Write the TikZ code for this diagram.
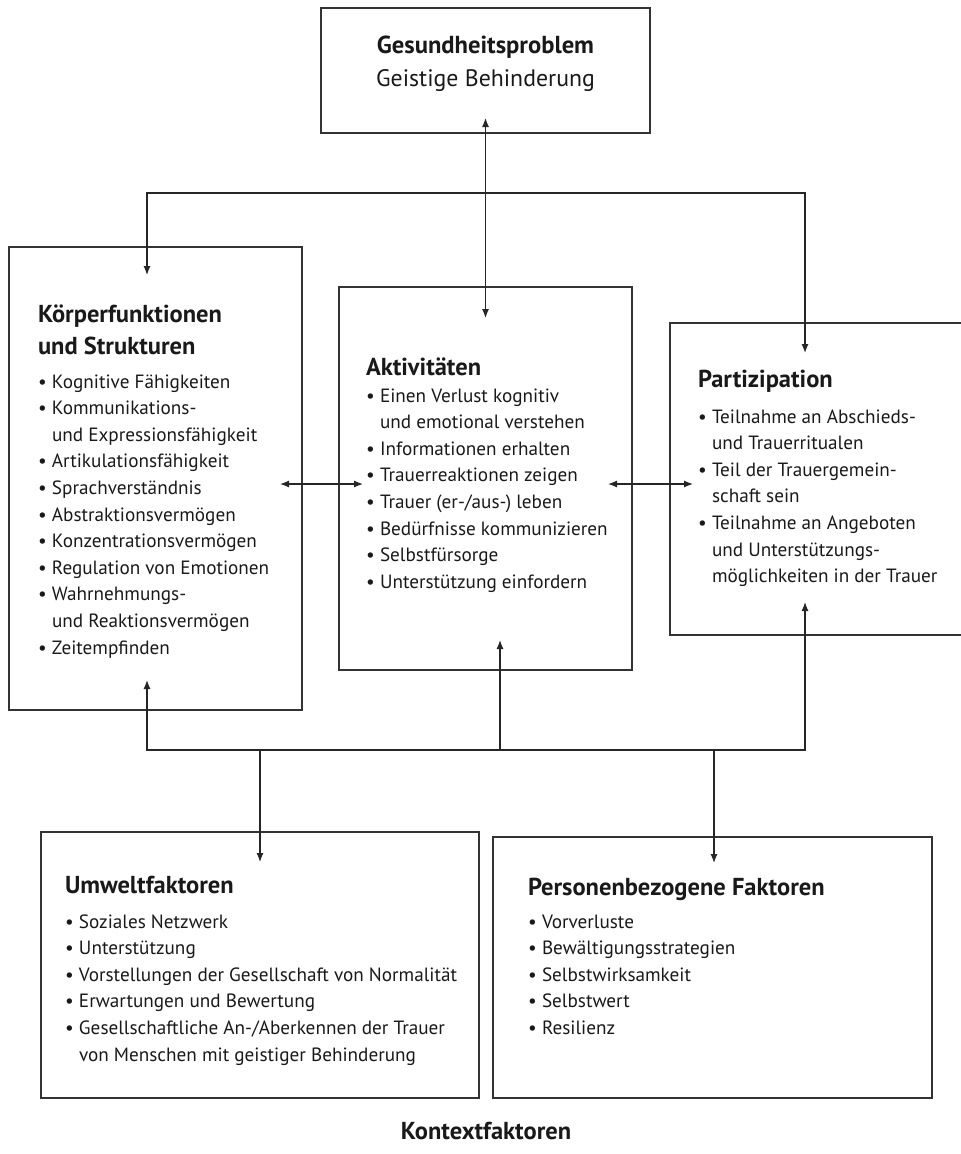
\documentclass[tikz,border=0pt]{standalone}
\usepackage{fontspec}
\setmainfont{PT Sans}
\usetikzlibrary{arrows.meta,fit}
\newcommand{\blt}{\makebox[14pt][l]{\textbullet}}
\newcommand{\itemfont}{\fontsize{19.2}{26.6}\selectfont}
\newcommand{\headfont}{\fontsize{24.5}{32}\selectfont\bfseries}
\begin{document}
\begin{tikzpicture}[x=1pt,y=-1pt,
  box/.style={draw=black!80, line width=1.3pt, inner sep=0pt},
  txt/.style={inner sep=0pt, outer sep=0pt, anchor=base west, text=black!90},
  conn/.style={draw=black!85, line width=1.2pt},
  arr/.style={conn, -{Latex[length=9pt,width=7pt]}},
  darr/.style={conn, {Latex[length=9pt,width=7pt]}-{Latex[length=9pt,width=7pt]}}
]
\useasboundingbox (0,0) rectangle (961,1154);

% boxes
\node[box, fit={(321,8) (650,133)}] (gp) {};
\node[box, fit={(9,247) (302,710)}] (kf) {};
\node[box, fit={(339,287) (632,670)}] (ak) {};
\node[box, fit={(670,323) (975,635)}] (pa) {};
\node[box, fit={(41,832) (479,1098)}] (uf) {};
\node[box, fit={(493,837) (932,1098)}] (pf) {};

% texts
\node[txt, anchor=base] (gpt) at (485.5,53) {\fontsize{24.6}{32}\selectfont\bfseries Gesundheitsproblem};
\node[txt, anchor=base] (gps) at (485.5,86) {\fontsize{23.8}{32}\selectfont Geistige Behinderung};

\node[txt] (kft) at (38,322) {\headfont\begin{tabular}[t]{@{}l@{}}Körperfunktionen\\und Strukturen\end{tabular}};
\node[txt] (kfl) at (38,388) {\itemfont\begin{tabular}[t]{@{}l@{}l@{}}
\blt & Kognitive Fähigkeiten\\
\blt & Kommunikations-\\
 & und Expressionsfähigkeit\\
\blt & Artikulationsfähigkeit\\
\blt & Sprachverständnis\\
\blt & Abstraktionsvermögen\\
\blt & Konzentrationsvermögen\\
\blt & Regulation von Emotionen\\
\blt & Wahrnehmungs-\\
 & und Reaktionsvermögen\\
\blt & Zeitempfinden
\end{tabular}};

\node[txt] (akt) at (366,375) {\headfont Aktivitäten};
\node[txt] (akl) at (366,402) {\itemfont\begin{tabular}[t]{@{}l@{}l@{}}
\blt & Einen Verlust kognitiv\\
 & und emotional verstehen\\
\blt & Informationen erhalten\\
\blt & Trauerreaktionen zeigen\\
\blt & Trauer (er-/aus-) leben\\
\blt & Bedürfnisse kommunizieren\\
\blt & Selbstfürsorge\\
\blt & Unterstützung einfordern
\end{tabular}};

\node[txt] (pat) at (698,387) {\headfont Partizipation};
\node[txt] (pal) at (698,423) {\itemfont\begin{tabular}[t]{@{}l@{}l@{}}
\blt & Teilnahme an Abschieds-\\
 & und Trauerritualen\\
\blt & Teil der Trauergemein-\\
 & schaft sein\\
\blt & Teilnahme an Angeboten\\
 & und Unterstützungs-\\
 & möglichkeiten in der Trauer
\end{tabular}};

\node[txt] (uft) at (65,893) {\headfont Umweltfaktoren};
\node[txt] (ufl) at (65,928) {\itemfont\begin{tabular}[t]{@{}l@{}l@{}}
\blt & Soziales Netzwerk\\
\blt & Unterstützung\\
\blt & Vorstellungen der Gesellschaft von Normalität\\
\blt & Erwartungen und Bewertung\\
\blt & Gesellschaftliche An-/Aberkennen der Trauer\\
 & von Menschen mit geistiger Behinderung
\end{tabular}};

\node[txt] (pft) at (528,895) {\headfont Personenbezogene Faktoren};
\node[txt] (pfl) at (528,928) {\itemfont\begin{tabular}[t]{@{}l@{}l@{}}
\blt & Vorverluste\\
\blt & Bewältigungsstrategien\\
\blt & Selbstwirksamkeit\\
\blt & Selbstwert\\
\blt & Resilienz
\end{tabular}};

\node[txt, anchor=base] (kx) at (486,1139) {\headfont Kontextfaktoren};

% connector end points
\coordinate (gpin) at (485.5,118);
\coordinate (akin) at (485.5,318);
\coordinate (kfin) at (147,275);
\coordinate (pain) at (805,353);
\coordinate (kfr) at (280,484);
\coordinate (akl1) at (363,484);
\coordinate (akr) at (608,484);
\coordinate (pal1) at (693,484);
\coordinate (kfbot) at (147,680);
\coordinate (akbot) at (500,640);
\coordinate (pabot) at (805,602);
\coordinate (ufin) at (260,862);
\coordinate (pfin) at (714,863);
\coordinate (busl) at (147,750);

% connectors
\draw[darr] (gpin) -- (akin);
\draw[darr] (kfin) |- (gpin |- 0,193) -| (pain);
\draw[darr] (kfr) -- (akl1);
\draw[darr] (akr) -- (pal1);
\draw[darr] (kfbot) |- (pabot |- busl) -- (pabot);
\draw[arr] (akbot |- busl) -- (akbot);
\draw[arr] (ufin |- busl) -- (ufin);
\draw[arr] (pfin |- busl) -- (pfin);
\end{tikzpicture}
\end{document}
